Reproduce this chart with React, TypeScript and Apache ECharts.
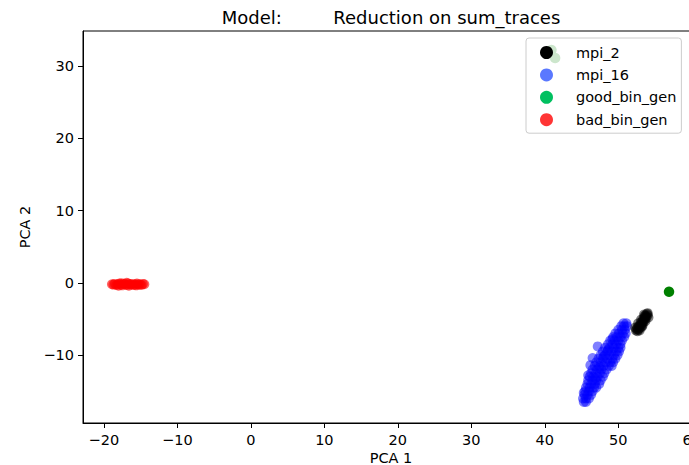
import React, { useEffect, useRef } from "react";
import * as echarts from "echarts";

const seriesNames = ["mpi_2", "mpi_16", "good_bin_gen", "bad_bin_gen"];

const mpi2Points: [number, number][] = [
  [52.4, -6.6], [52.5, -6.4], [52.6, -6.2], [52.7, -6.5], [52.8, -6.0], [52.9, -6.3],
  [53.0, -5.8], [53.1, -6.0], [53.1, -5.5], [53.2, -5.7], [53.3, -5.3], [53.4, -5.5],
  [53.4, -5.0], [53.5, -5.2], [53.6, -4.8], [53.7, -5.0], [53.7, -4.5], [53.8, -4.7],
  [53.9, -4.3], [54.0, -4.2], [54.0, -4.5], [52.6, -6.7], [53.2, -6.1], [53.6, -4.6],
  [52.9, -6.6], [53.3, -5.9], [53.7, -5.3], [54.1, -4.8], [52.3, -6.2], [52.7, -5.6],
  [53.1, -5.1], [53.5, -4.4],
];

const mpi16Points: [number, number][] = [
  [45.3, -16.5], [45.6, -16.5],
  [45.2, -16.0], [45.6, -16.0], [46.0, -16.0],
  [45.4, -15.5], [45.8, -15.5], [46.3, -15.5],
  [45.5, -15.0], [46.0, -15.0], [46.5, -15.0],
  [45.6, -14.5], [46.1, -14.5], [46.7, -14.5], [47.0, -14.5],
  [45.8, -14.0], [46.3, -14.0], [46.8, -14.0], [47.4, -14.0],
  [45.9, -13.5], [46.5, -13.5], [47.0, -13.5], [47.6, -13.5],
  [46.1, -13.0], [46.6, -13.0], [47.2, -13.0], [47.9, -13.0],
  [46.3, -12.5], [46.9, -12.5], [47.5, -12.5], [48.1, -12.5],
  [46.5, -12.0], [47.1, -12.0], [47.7, -12.0], [48.4, -12.0],
  [46.8, -11.5], [47.4, -11.5], [48.0, -11.5], [48.7, -11.5], [49.1, -11.5],
  [47.0, -11.0], [47.6, -11.0], [48.3, -11.0], [48.9, -11.0], [49.3, -11.0],
  [47.3, -10.5], [47.9, -10.5], [48.5, -10.5], [49.2, -10.5], [49.6, -10.5],
  [47.6, -10.0], [48.2, -10.0], [48.8, -10.0], [49.4, -10.0], [49.9, -10.0],
  [47.9, -9.5], [48.5, -9.5], [49.1, -9.5], [49.7, -9.5], [50.1, -9.5],
  [48.2, -9.0], [48.8, -9.0], [49.4, -9.0], [50.0, -9.0], [50.3, -9.0],
  [48.6, -8.5], [49.2, -8.5], [49.7, -8.5], [50.3, -8.5],
  [48.9, -8.0], [49.5, -8.0], [50.0, -8.0], [50.5, -8.0],
  [49.3, -7.5], [49.8, -7.5], [50.3, -7.5], [50.8, -7.5],
  [49.6, -7.0], [50.1, -7.0], [50.6, -7.0], [51.0, -7.0],
  [50.0, -6.5], [50.5, -6.5], [50.9, -6.5],
  [50.4, -6.0], [50.8, -6.0], [51.2, -6.0],
  [50.7, -5.6], [51.1, -5.6],
  [45.9, -12.8], [46.5, -10.4], [47.2, -8.8], [45.3, -15.2], [46.2, -11.4],
  [46.9, -13.2], [47.4, -11.8], [48.0, -10.2], [48.6, -9.3], [49.2, -7.8],
];

const goodPoints: [number, number][] = [
  [56.9, -1.25], [40.9, 32.2], [41.4, 31.1],
];

const badPoints: [number, number][] = [
  [-18.9, -0.2], [-18.7, -0.25], [-18.5, -0.15], [-18.3, -0.3], [-18.1, -0.2],
  [-17.9, -0.1], [-17.7, -0.25], [-17.5, -0.35], [-17.3, -0.15], [-17.1, -0.2],
  [-16.9, -0.3], [-16.7, -0.1], [-16.5, -0.2], [-16.3, -0.25], [-16.1, -0.15],
  [-15.9, -0.3], [-15.7, -0.2], [-15.5, -0.1], [-15.3, -0.25], [-15.1, -0.2],
  [-14.9, -0.3], [-14.7, -0.15], [-14.5, -0.2], [-17.6, -0.05], [-16.6, -0.4],
  [-15.6, -0.35], [-16.9, 0.0], [-18.0, -0.4],
];

const xAxisName = "PCA 1";
const yAxisName = "PCA 2";
const titleText = "Model:         Reduction on sum_traces";

const fmt = (v: number) => (v < 0 ? "\u2212" + Math.abs(v) : String(v));

export default function App() {
  const ref = useRef<HTMLDivElement>(null);
  useEffect(() => {
    document.body.style.margin = "0";
    const chart = echarts.init(ref.current!, null, { renderer: "svg" });
    const font = "DejaVu Sans";
    const axisCommon = {
      axisLine: { show: true, onZero: false, lineStyle: { color: "#000", width: 1 } },
      axisTick: { show: true, inside: false, length: 5, lineStyle: { color: "#000", width: 1 } },
      splitLine: { show: false },
      minInterval: 10,
      maxInterval: 10,
      nameLocation: "middle" as const,
      nameMoveOverlap: false,
      nameTextStyle: { fontFamily: font, fontSize: 14.5, color: "#000" },
    };
    const labelCommon = {
      show: true,
      margin: 9,
      fontFamily: font,
      fontSize: 14.5,
      color: "#000",
      showMinLabel: false,
      showMaxLabel: false,
      formatter: fmt,
    };
    chart.setOption({
      animation: false,
      backgroundColor: "#fff",
      graphic: [
        {
          type: "text",
          x: 391,
          y: 17,
          style: {
            text: titleText,
            font: `18px "${font}"`,
            fill: "#000",
            textAlign: "center",
            textVerticalAlign: "middle",
          },
        },
      ],
      grid: {
        left: 83,
        top: 31,
        width: 616,
        height: 392,
        show: true,
        borderColor: "#000",
        borderWidth: 1,
        backgroundColor: "transparent",
        containLabel: false,
        outerBoundsMode: "none",
      },
      xAxis: {
        type: "value",
        min: -22.84,
        max: 60.98,
        name: xAxisName,
        nameGap: 27,
        ...axisCommon,
        axisLabel: { ...labelCommon },
      },
      yAxis: {
        type: "value",
        min: -19.4,
        max: 34.84,
        name: yAxisName,
        nameGap: 51,
        ...axisCommon,
        axisLabel: { ...labelCommon },
      },
      legend: {
        orient: "vertical",
        left: 526,
        top: 38,
        padding: [7, 5, 6, 14],
        itemWidth: 13,
        itemHeight: 13,
        itemGap: 7.4,
        icon: "circle",
        backgroundColor: "rgba(255,255,255,0.8)",
        borderColor: "#cccccc",
        borderWidth: 1,
        borderRadius: 3,
        textStyle: {
          fontFamily: font,
          fontSize: 14.5,
          color: "#000",
          lineHeight: 14,
          padding: [0, 0, 0, 18],
        },
        data: [
          { name: seriesNames[0], itemStyle: { color: "#000000", opacity: 1 } },
          { name: seriesNames[1], itemStyle: { color: "#5a78ff", opacity: 1 } },
          { name: seriesNames[2], itemStyle: { color: "#00c060", opacity: 1 } },
          { name: seriesNames[3], itemStyle: { color: "#ff3535", opacity: 1 } },
        ],
      },
      series: [
        {
          name: seriesNames[1],
          type: "scatter",
          data: mpi16Points,
          symbolSize: 10,
          itemStyle: { color: "#0000ff", opacity: 0.5 },
          z: 2,
        },
        {
          name: seriesNames[0],
          type: "scatter",
          data: mpi2Points,
          symbolSize: 10,
          itemStyle: { color: "#000000", opacity: 0.5 },
          z: 3,
        },
        {
          name: seriesNames[2],
          type: "scatter",
          data: goodPoints,
          symbolSize: 10.5,
          itemStyle: { color: "#008000", opacity: 1 },
          z: 3,
        },
        {
          name: seriesNames[3],
          type: "scatter",
          data: badPoints,
          symbolSize: 10,
          itemStyle: { color: "#ff0000", opacity: 0.6 },
          z: 3,
        },
      ],
    });
    return () => chart.dispose();
  }, []);
  return <div ref={ref} style={{ width: 689, height: 465, overflow: "hidden" }} />;
}
